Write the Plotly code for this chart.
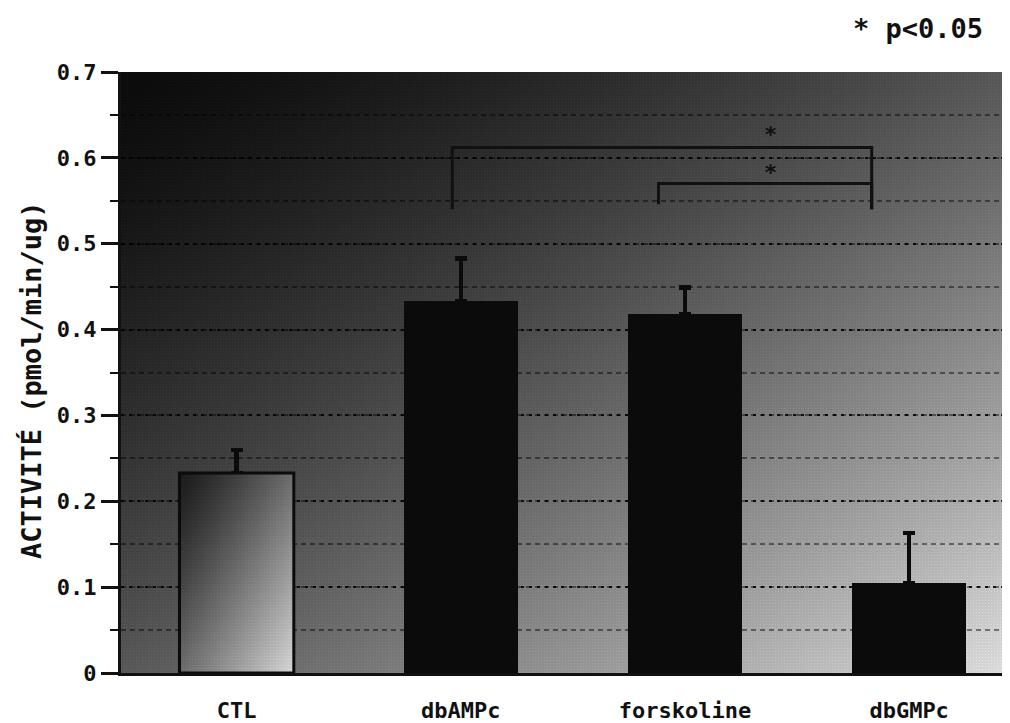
import base64, struct, zlib
import numpy as np
import plotly.graph_objects as go

# ---- data ----
categories = ["CTL", "dbAMPc", "forskoline", "dbGMPc"]
values = [0.233, 0.433, 0.418, 0.105]
errors_up = [0.027, 0.050, 0.031, 0.058]
y_tick_values = [0, 0.1, 0.2, 0.3, 0.4, 0.5, 0.6, 0.7]
y_tick_labels = ["0", "0.1", "0.2", "0.3", "0.4", "0.5", "0.6", "0.7"]
# significance brackets in data units
bracket_left = [0.962, 1.882]
bracket_right = [2.833, 2.833]
bracket_level = [0.612, 0.570]
bracket_foot_left = [0.540, 0.546]
bracket_foot_right = [0.540, 0.540]
star_x = [2.382, 2.382]
star_y = [0.627, 0.583]
legend_text = "* p<0.05"
y_title = "ACTIVITÉ (pmol/min/ug)"

BAR_W = 0.51
FONT = "DejaVu Sans Mono"


def png_uri(arr):
    arr = np.clip(arr, 0, 255).astype(np.uint8)
    h, w = arr.shape
    raw = b"".join(b"\x00" + arr[i].tobytes() for i in range(h))

    def chunk(t, d):
        return (struct.pack(">I", len(d)) + t + d
                + struct.pack(">I", zlib.crc32(t + d) & 0xFFFFFFFF))

    ihdr = struct.pack(">IIBBBBB", w, h, 8, 0, 0, 0, 0)
    png = (b"\x89PNG\r\n\x1a\n" + chunk(b"IHDR", ihdr)
           + chunk(b"IDAT", zlib.compress(raw, 9)) + chunk(b"IEND", b""))
    return "data:image/png;base64," + base64.b64encode(png).decode()


def gradient(w, h, lo, hi, gamma, dots=14):
    xx, yy = np.meshgrid(np.arange(w) / (w - 1), np.arange(h) / (h - 1))
    t = (xx + yy) / 2.0
    g = lo + (hi - lo) * t ** gamma
    ix, iy = np.meshgrid(np.arange(w), np.arange(h))
    pattern = np.where(((ix % 3) == 0) & ((iy % 3) == 0), dots, 0)
    pattern = pattern - np.where(((ix + iy) % 2) == 1, dots * 0.25, 0)
    g = g + pattern * (0.3 + t)
    return g


W_PLOT, H_PLOT = 889, 601
bg_uri = png_uri(gradient(W_PLOT, H_PLOT, 12, 222, 1.45))
ctl_uri = png_uri(gradient(110, 200, 28, 215, 1.2))

x_idx = list(range(len(categories)))
bar_colors = ["rgba(0,0,0,0)"] + ["#0b0b0b"] * (len(categories) - 1)

fig = go.Figure()
fig.add_trace(go.Bar(
    x=x_idx, y=values, width=BAR_W,
    marker=dict(color=bar_colors, line=dict(color="#0b0b0b", width=0)),
    error_y=dict(type="data", array=errors_up, arrayminus=[0] * len(values),
                 symmetric=False, color="#0b0b0b", thickness=4.5, width=6),
    showlegend=False, hoverinfo="skip",
))

# CTL bar gradient fill (image) + outline
fig.add_layout_image(dict(
    source=ctl_uri, xref="x", yref="y",
    x=x_idx[0] - BAR_W / 2, y=values[0], sizex=BAR_W, sizey=values[0],
    xanchor="left", yanchor="top", sizing="stretch", layer="above",
))
fig.add_shape(type="rect", xref="x", yref="y",
              x0=x_idx[0] - BAR_W / 2, x1=x_idx[0] + BAR_W / 2, y0=0, y1=values[0],
              line=dict(color="#0b0b0b", width=3), layer="above")

# background gradient
fig.add_layout_image(dict(
    source=bg_uri, xref="paper", yref="paper", x=0, y=1, sizex=1, sizey=1,
    xanchor="left", yanchor="top", sizing="stretch", layer="below",
))

# significance brackets
for xl, xr, lv, fl, fr in zip(bracket_left, bracket_right, bracket_level,
                              bracket_foot_left, bracket_foot_right):
    fig.add_shape(type="path", xref="x", yref="y",
                  path=f"M {xl} {fl} L {xl} {lv} L {xr} {lv} L {xr} {fr}",
                  line=dict(color="#111111", width=3), layer="above")
for sx, sy in zip(star_x, star_y):
    fig.add_annotation(x=sx, y=sy, xref="x", yref="y", text="*", showarrow=False,
                       font=dict(family=FONT, size=22, color="#111111", weight="bold"))

fig.add_annotation(x=0.8965, y=1.073, xref="paper", yref="paper", text=legend_text,
                   showarrow=False, xanchor="center", yanchor="middle",
                   font=dict(family=FONT, size=27, color="#111111", weight="bold"))
fig.add_annotation(x=0, y=0.4875, xref="paper", yref="paper", text=y_title,
                   showarrow=False, xanchor="center", yanchor="middle", textangle=-90,
                   xshift=-90,
                   font=dict(family=FONT, size=27, color="#111111", weight="bold"))

# the page body has an 8px margin; compensate so the plot lands where the reference has it
fig.update_layout(
    width=1002, height=715,
    margin=dict(l=113, r=0, t=64, b=50, autoexpand=False),
    paper_bgcolor="white", plot_bgcolor="#777777",
    bargap=0,
    font=dict(family=FONT, color="#111111", size=21, weight="bold"),
    xaxis=dict(
        range=[-0.516, 3.45], tickvals=x_idx, ticktext=categories, automargin=False,
        showgrid=False, zeroline=False, showline=True, linecolor="#111111", linewidth=3,
        ticks="outside", ticklen=16, tickcolor="rgba(0,0,0,0)",
        tickfont=dict(family=FONT, size=22, color="#111111", weight="bold"),
    ),
    yaxis=dict(
        range=[0, 0.7], tickvals=y_tick_values, ticktext=y_tick_labels, automargin=False,
        showline=True, linecolor="#111111", linewidth=3, zeroline=False,
        ticks="outside", ticklen=17, tickwidth=3, tickcolor="#111111",
        tickfont=dict(family=FONT, size=22, color="#111111", weight="bold"),
        showgrid=True, gridcolor="rgba(0,0,0,0.85)", gridwidth=2, griddash="3px,5px",
        minor=dict(dtick=0.05, tick0=0, ticks="outside", ticklen=8, tickwidth=2,
                   tickcolor="#111111", showgrid=True, gridcolor="rgba(0,0,0,0.45)",
                   gridwidth=1.5, griddash="5px,4px"),
    ),
)

fig.write_html("out.html")
